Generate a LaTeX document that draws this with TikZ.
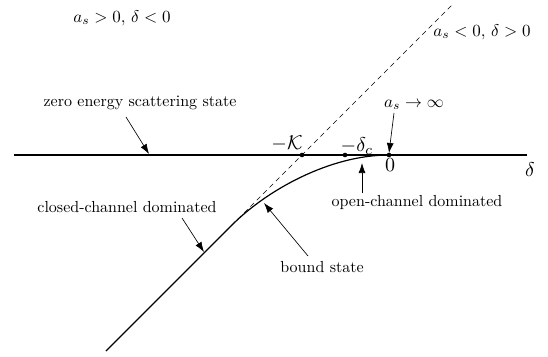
\documentclass[tikz,border=0pt]{standalone}
\usepackage{graphicx}
\usetikzlibrary{arrows.meta}
\begin{document}
\begin{tikzpicture}[x=1pt,y=-1pt,
  thickline/.style={line width=1.2pt},
  dashline/.style={line width=0.6pt,dash pattern=on 5pt off 4pt},
  pointer/.style={line width=0.65pt,-{Latex[length=10pt,width=7pt]}},
  lbl/.style={inner sep=0pt},
  dotnode/.style={circle,fill=black,inner sep=0pt,minimum size=4.6pt}]
\useasboundingbox (0,0) rectangle (548,356);
% axis
\coordinate (axL) at (14,155);
\coordinate (axR) at (527,155);
\draw[thickline] (axL) -- (axR);
% dashed asymptote
\coordinate (dA) at (225,232);
\coordinate (dB) at (453,4);
\draw[dashline] (dA) -- (dB);
% bound state curve
\coordinate (bS) at (106,351);
\coordinate (bJ) at (232,225);
\coordinate (zc) at (389,155);
\draw[thickline] (bS) -- (bJ) .. controls (267,190) and (330,155) .. (zc);
\node[dotnode] (zero) at (zc) {};
\node[dotnode] (kap) at (302,155) {};
\node[dotnode] (dc) at (345,155) {};
% labels
\node[lbl] (q1) at (122,18) {\scalebox{1.7}{$a_s>0,\,\delta<0$}};
\node[lbl] (q2) at (482,32) {\scalebox{1.7}{$a_s<0,\,\delta>0$}};
\node[lbl] (zes) at (140,103) {\scalebox{1.6}{zero energy scattering state}};
\node[lbl] (kl) at (287,143) {\scalebox{2}{$-\mathcal{K}$}};
\node[lbl] (dcl) at (357,146) {\scalebox{2}{$-\delta_c$}};
\node[lbl] (zl) at (390,165) {\scalebox{2}{$0$}};
\node[lbl] (del) at (530,170) {\scalebox{2}{$\delta$}};
\node[lbl] (inf) at (414,105) {\scalebox{1.7}{$a_s\to\infty$}};
\node[lbl] (ocd) at (417,202) {\scalebox{1.6}{open-channel dominated}};
\node[lbl] (ccd) at (127,207) {\scalebox{1.6}{closed-channel dominated}};
\node[lbl] (bst) at (322,267) {\scalebox{1.6}{bound state}};
% arrows
\coordinate (t1) at (126,117); \coordinate (h1) at (149,154);
\coordinate (t2) at (394,113); \coordinate (h2) at (389,153);
\coordinate (t3) at (362,193); \coordinate (h3) at (362,163);
\coordinate (t4) at (182,218); \coordinate (h4) at (204,252);
\coordinate (t5) at (308,256); \coordinate (h5) at (264,203);
\draw[pointer] (t1) -- (h1);
\draw[pointer] (t2) -- (h2);
\draw[pointer] (t3) -- (h3);
\draw[pointer] (t4) -- (h4);
\draw[pointer] (t5) -- (h5);
\end{tikzpicture}
\end{document}
